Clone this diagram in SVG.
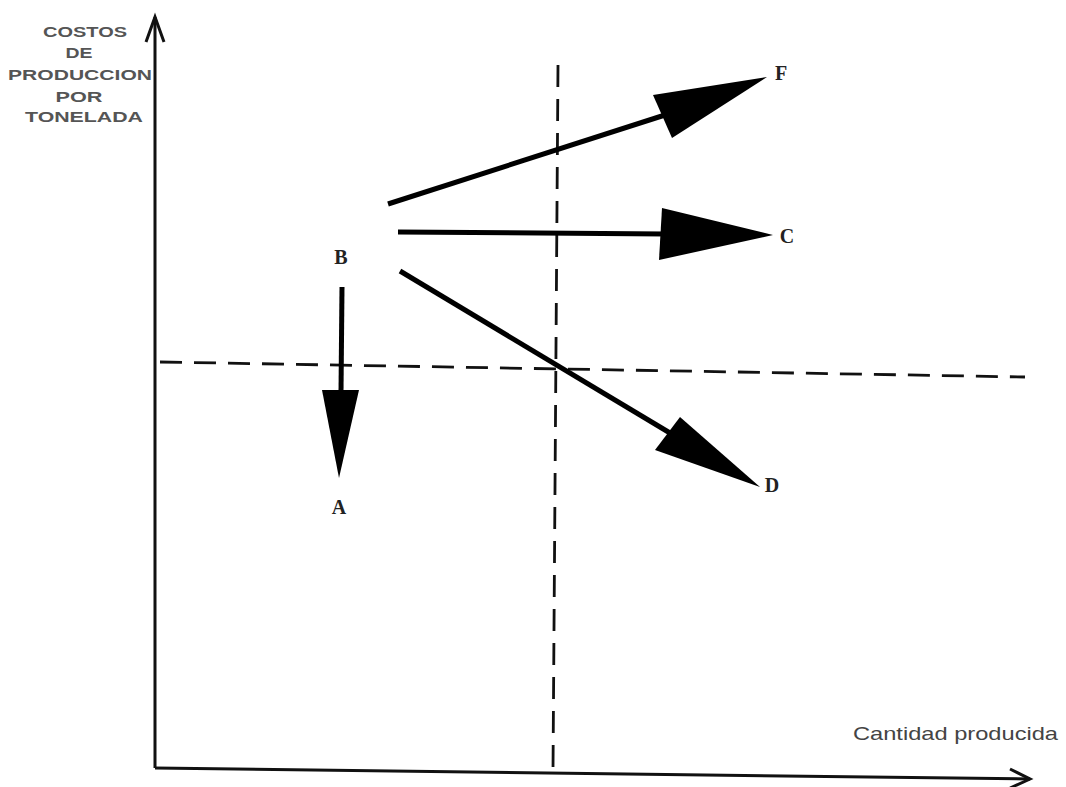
<svg xmlns="http://www.w3.org/2000/svg" width="1066" height="787" viewBox="0 0 1066 787">
<style>
.axis{stroke:#111;stroke-width:3;fill:none}
.dash{stroke:#111;stroke-width:2.8;fill:none;stroke-dasharray:22 12}
.shaft{stroke:#000;stroke-width:5;fill:none;stroke-linecap:butt}
.head{fill:#000}
.lbl{font-family:"Liberation Serif",serif;font-weight:bold;font-size:20px;fill:#222}
.ylab{font-family:"Liberation Sans",sans-serif;font-weight:bold;font-size:14px;fill:#555;text-anchor:middle}
.xlab{font-family:"Liberation Sans",sans-serif;font-size:19px;fill:#444}
</style>
<rect width="1066" height="787" fill="#fff"/>
<g id="axes">
<path class="axis" d="M155 768 L155 17"/>
<path class="axis" d="M146 42 L155 17 L164 42"/>
<path class="axis" d="M155 768 L1030 779"/>
<path class="axis" d="M1010 769 L1030 779 L1010 788"/>
</g>
<g id="guides">
<path class="dash" d="M558 65 L553 770"/>
<path class="dash" d="M160 362 L1025 377"/>
</g>
<g id="y-label">
<text class="ylab" x="85" y="37" textLength="84" lengthAdjust="spacingAndGlyphs">COSTOS</text>
<text class="ylab" x="79" y="58" textLength="27" lengthAdjust="spacingAndGlyphs">DE</text>
<text class="ylab" x="80" y="80" textLength="144" lengthAdjust="spacingAndGlyphs">PRODUCCION</text>
<text class="ylab" x="79" y="102" textLength="47" lengthAdjust="spacingAndGlyphs">POR</text>
<text class="ylab" x="84" y="122" textLength="118" lengthAdjust="spacingAndGlyphs">TONELADA</text>
</g>
<g id="x-label">
<text class="xlab" x="853" y="740" textLength="205" lengthAdjust="spacingAndGlyphs">Cantidad producida</text>
</g>
<g id="node-B"><text class="lbl" x="341" y="264" text-anchor="middle">B</text></g>
<g id="node-A"><text class="lbl" x="339" y="514" text-anchor="middle">A</text></g>
<g id="node-C"><text class="lbl" x="787" y="243" text-anchor="middle">C</text></g>
<g id="node-D"><text class="lbl" x="772" y="492" text-anchor="middle">D</text></g>
<g id="node-F"><text class="lbl" x="781" y="80" text-anchor="middle">F</text></g>
<g id="connectors">
<path class="shaft" d="M388 204 L665 115"/>
<path class="head" d="M767 77 L653 95 L672 138 Z"/>
<path class="shaft" d="M398 232 L665 234"/>
<path class="head" d="M773 235 L662 208 L659 260 Z"/>
<path class="shaft" d="M400 271 L670 433"/>
<path class="head" d="M760 487 L680 417 L655 450 Z"/>
<path class="shaft" d="M342 287 L341 392"/>
<path class="head" d="M339 478 L322 390 L359 390 Z"/>
</g>
</svg>
